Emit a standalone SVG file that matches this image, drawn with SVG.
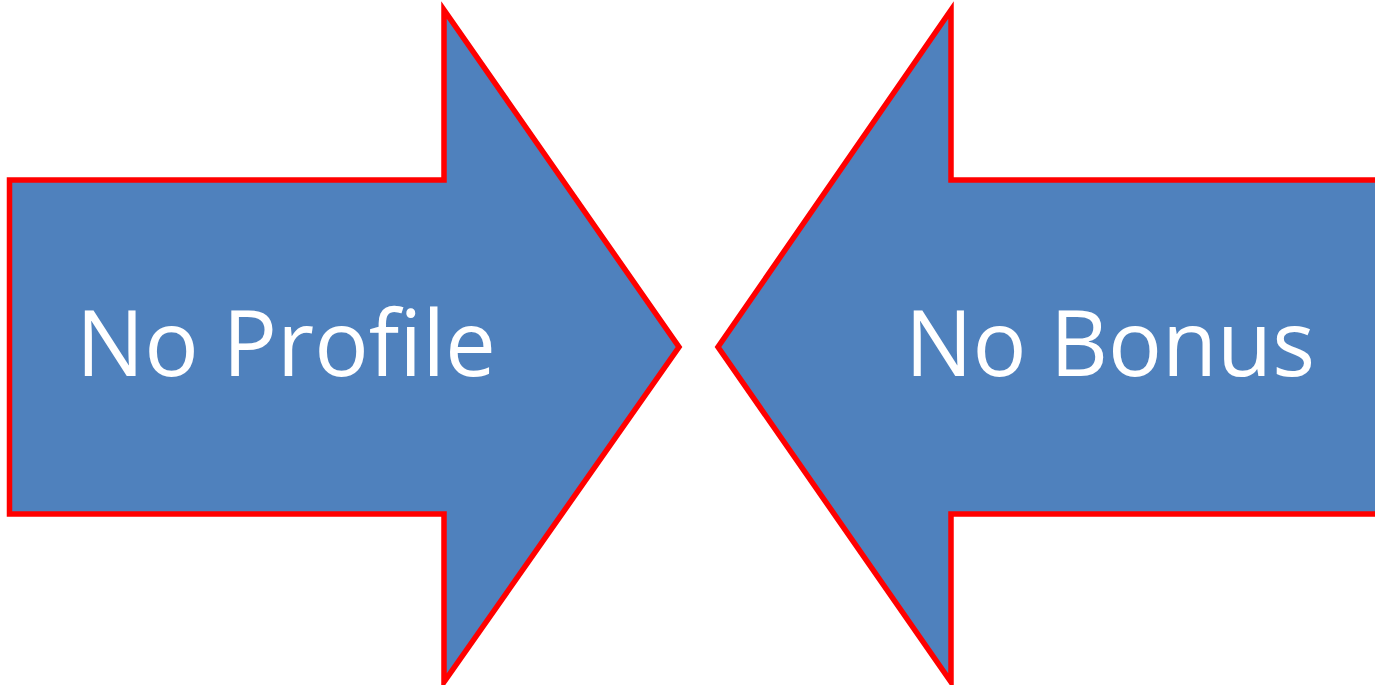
<svg xmlns="http://www.w3.org/2000/svg" width="1375" height="685" viewBox="0 0 1375 685">
<style>
.arrow{fill:#4f81bd;stroke:#ff0000;stroke-width:5.5;stroke-linejoin:miter;stroke-miterlimit:10}
.lbl{fill:#ffffff;font-family:"Open Sans","Liberation Sans",sans-serif;font-size:91px}
</style>
<rect width="1375" height="685" fill="#ffffff"/>
<g id="node-no-profile">
<polygon class="arrow" points="9.5,180 444,180 444,10 679,347 444,682 444,514 9.5,514"/>
<text class="lbl" x="76" y="376" textLength="420" lengthAdjust="spacingAndGlyphs">No Profile</text>
</g>
<g id="node-no-bonus">
<polygon class="arrow" points="1380,180 951,180 951,10 718,347 951,682 951,514 1380,514"/>
<text class="lbl" x="905" y="376" textLength="410" lengthAdjust="spacingAndGlyphs">No Bonus</text>
</g>
<g id="connectors"></g>
</svg>
